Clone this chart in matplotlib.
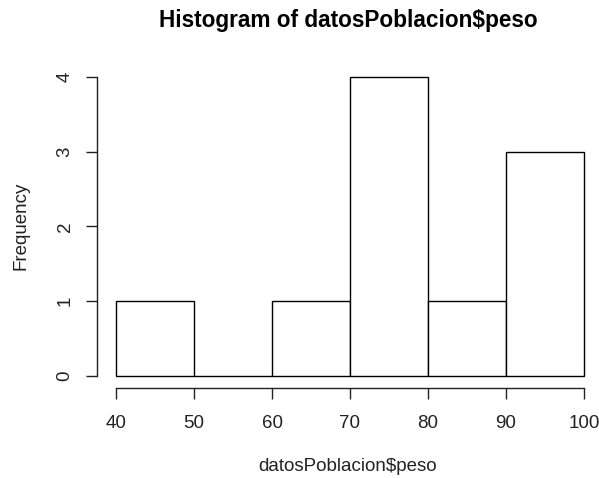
import matplotlib
matplotlib.use("Agg")
import matplotlib.pyplot as plt

bin_edges = [40, 50, 60, 70, 80, 90, 100]
counts = [1, 0, 1, 4, 1, 3]
x_ticks = [40, 50, 60, 70, 80, 90, 100]
y_ticks = [0, 1, 2, 3, 4]
title = "Histogram of datosPoblacion$peso"
xlabel = "datosPoblacion$peso"
ylabel = "Frequency"

plt.rcParams['font.family'] = ['Liberation Sans', 'DejaVu Sans']

W, H = 599, 478
fig = plt.figure(figsize=(W/100, H/100), dpi=100)
ax = fig.add_axes([97.3/W, 1-387.7/H, (602.7-97.3)/W, (387.7-65)/H])
ax.set_xlim(37.6, 102.4)
ax.set_ylim(-0.16, 4.16)

lefts = bin_edges[:-1]
widths = [b - a for a, b in zip(bin_edges[:-1], bin_edges[1:])]
ax.bar(lefts, counts, width=widths, align='edge', facecolor='white',
       edgecolor='black', linewidth=1.0)

for s in ['top', 'right']:
    ax.spines[s].set_visible(False)
ax.spines['bottom'].set_bounds(40, 100)
ax.spines['left'].set_bounds(0, 4)
for s in ['bottom', 'left']:
    ax.spines[s].set_linewidth(1.0)
    ax.spines[s].set_color('#222222')

ax.set_xticks(x_ticks)
ax.set_yticks(y_ticks)
ax.set_xticklabels([str(v) for v in x_ticks])
ax.set_yticklabels([str(v) for v in y_ticks], rotation=90, va='center')
ax.tick_params(axis='both', length=8, width=1.0, color='#222222',
               labelsize=13.5, labelcolor='#222222')
ax.tick_params(axis='x', pad=12)
ax.tick_params(axis='y', pad=9)

fig.text(348/W, 1-27/H, title, ha='center', va='baseline', fontsize=16.3,
         fontweight='bold')
fig.text(348/W, 1-471/H, xlabel, ha='center', va='baseline', fontsize=13.5,
         color='#222222')
fig.text(21/W, 1-226/H, ylabel, ha='center', va='center', fontsize=13.5,
         rotation=90, color='#222222')

fig.savefig("out.png", dpi=100)
